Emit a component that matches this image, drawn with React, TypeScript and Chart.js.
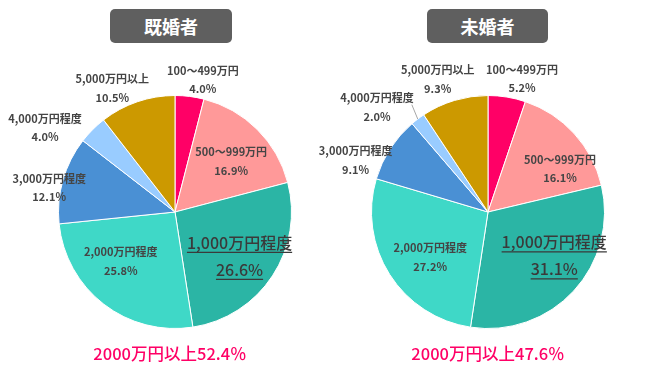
import React, { useEffect, useRef } from "react";
import { Chart, registerables } from "chart.js";

Chart.register(...registerables);

const categories = [
  "100～499万円",
  "500～999万円",
  "1,000万円程度",
  "2,000万円程度",
  "3,000万円程度",
  "4,000万円程度",
  "5,000万円以上",
];
const marriedValues = [4.0, 16.9, 26.6, 25.8, 12.1, 4.0, 10.5];
const singleValues = [5.2, 16.1, 31.1, 27.2, 9.1, 2.0, 9.3];
const marriedTitle = "既婚者";
const singleTitle = "未婚者";
const marriedNote = "2000万円以上52.4％";
const singleNote = "2000万円以上47.6％";

const colors = ["#ff0066", "#ff9999", "#2bb5a5", "#3fd8c7", "#4a90d4", "#99ccff", "#cc9900"];
const FONT = '"Noto Sans CJK JP", "Noto Sans", sans-serif';

// label placement styles: [radius factor, angle shift (deg)]
const marriedPlace: [number, number][] = [
  [1.16, 4.7], [0.65, 3], [0.67, 1], [0.63, 10], [1.1, -5], [1.33, -12], [1.19, -8],
];
const singlePlace: [number, number][] = [
  [1.18, 5], [0.72, 11.5], [0.68, -9.4], [0.63, -5.6], [1.22, -11.6], [1.31, -9.6], [1.22, -4],
];

const highlightIndex = 2;

function makeLabelPlugin(place: [number, number][], leaders: number[]) {
  return {
    id: "sliceLabels",
    afterDatasetsDraw(chart: any) {
      const ctx = chart.ctx;
      const meta = chart.getDatasetMeta(0);
      const values = chart.data.datasets[0].data as number[];
      meta.data.forEach((arc: any, i: number) => {
        const { x, y, startAngle, endAngle, outerRadius } = arc.getProps(
          ["x", "y", "startAngle", "endAngle", "outerRadius"],
          true
        );
        const mid = (startAngle + endAngle) / 2;
        const [f, shift] = place[i];
        const a = mid + (shift * Math.PI) / 180;
        const px = x + Math.cos(a) * outerRadius * f;
        const py = y + Math.sin(a) * outerRadius * f;
        if (leaders.includes(i)) {
          ctx.save();
          ctx.strokeStyle = "#a6a6a6";
          ctx.lineWidth = 1;
          ctx.beginPath();
          ctx.moveTo(x + Math.cos(mid) * outerRadius, y + Math.sin(mid) * outerRadius);
          ctx.lineTo(x + Math.cos(mid + 0.03) * outerRadius * 1.13, y + Math.sin(mid + 0.03) * outerRadius * 1.13);
          ctx.stroke();
          ctx.restore();
        }
        const big = i === highlightIndex;
        const size = big ? 16 : 11;
        const gap = big ? 27 : 18.5;
        const lines = [categories[i], values[i].toFixed(1) + "%"];
        ctx.save();
        ctx.font = `${big ? 500 : 700} ${size}px ${FONT}`;
        ctx.fillStyle = big ? "#3a3a3a" : "#454545";
        ctx.textAlign = "center";
        ctx.textBaseline = "middle";
        lines.forEach((t, k) => {
          const ly = py + (k === 0 ? -gap / 2 : gap / 2);
          ctx.fillText(t, px, ly);
          if (big) {
            const w = ctx.measureText(t).width;
            ctx.strokeStyle = "#3a3a3a";
            ctx.lineWidth = 1.2;
            ctx.beginPath();
            ctx.moveTo(px - w / 2, ly + 10);
            ctx.lineTo(px + w / 2, ly + 10);
            ctx.stroke();
          }
        });
        ctx.restore();
      });
    },
  };
}

function PieCanvas({
  values,
  place,
  leaders,
  width,
  padding,
}: {
  values: number[];
  place: [number, number][];
  leaders: number[];
  width: number;
  padding: { left: number; right: number; top: number; bottom: number };
}) {
  const ref = useRef<HTMLCanvasElement>(null);
  useEffect(() => {
    if (!ref.current) return;
    const chart = new Chart(ref.current, {
      type: "pie",
      data: {
        labels: categories,
        datasets: [
          {
            data: values,
            backgroundColor: colors,
            borderColor: "#ffffff",
            borderWidth: 1,
          },
        ],
      },
      options: {
        animation: false,
        responsive: false,
        devicePixelRatio: 1,
        layout: { padding },
        plugins: {
          legend: { display: false },
          tooltip: { enabled: false },
          title: { display: false },
        },
      },
      plugins: [makeLabelPlugin(place, leaders)],
    });
    return () => chart.destroy();
  }, []);
  return <canvas ref={ref} width={width} height={376} style={{ width, height: 376, display: "block" }} />;
}

const titleStyle = (left: number, width: number): React.CSSProperties => ({
  position: "absolute",
  left,
  top: 9,
  width,
  height: 34,
  background: "#5f5f5f",
  borderRadius: 5,
  color: "#ffffff",
  fontFamily: FONT,
  fontWeight: 700,
  fontSize: 18,
  lineHeight: "34px",
  textAlign: "center",
});

const noteStyle = (center: number): React.CSSProperties => ({
  position: "absolute",
  left: center - 100,
  top: 341,
  width: 200,
  textAlign: "center",
  color: "#ff0066",
  fontFamily: FONT,
  fontWeight: 500,
  fontSize: 16.5,
  lineHeight: "24px",
});

export default function App() {
  return (
    <div style={{ position: "absolute", left: 0, top: 0, width: 650, height: 376, background: "#fff", overflow: "hidden" }}>
      <div style={{ position: "absolute", left: 0, top: 0 }}>
        <PieCanvas values={marriedValues} place={marriedPlace} leaders={[]} width={325} padding={{ left: 58, right: 33, top: 95, bottom: 47 }} />
      </div>
      <div style={{ position: "absolute", left: 300, top: 0 }}>
        <PieCanvas values={singleValues} place={singlePlace} leaders={[5]} width={350} padding={{ left: 71, right: 45, top: 95, bottom: 47 }} />
      </div>
      <div style={titleStyle(110, 122)}>{marriedTitle}</div>
      <div style={titleStyle(427, 121)}>{singleTitle}</div>
      <div style={noteStyle(170)}>{marriedNote}</div>
      <div style={noteStyle(488)}>{singleNote}</div>
    </div>
  );
}
